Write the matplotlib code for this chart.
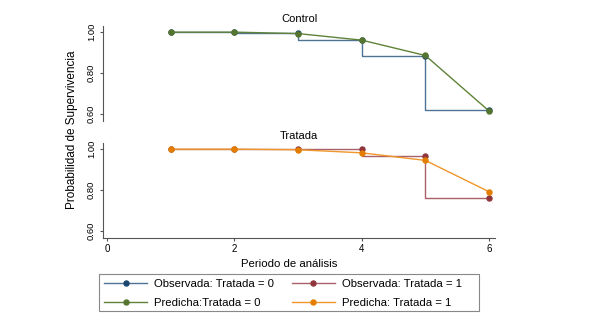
import matplotlib
matplotlib.use("Agg")
import matplotlib.pyplot as plt
from matplotlib.patches import Rectangle

plt.rcParams['font.family'] = ['Liberation Sans', 'DejaVu Sans']

periodo = [1, 2, 3, 4, 5, 6]

# Control (Tratada = 0)
obs_control = [1.0, 1.0, 0.994, 0.963, 0.883, 0.622]
pred_control = [1.0, 1.0, 0.993, 0.961, 0.886, 0.615]

# Tratada (Tratada = 1)
obs_tratada = [1.0, 1.0, 1.0, 1.0, 0.966, 0.761]
pred_tratada = [1.0, 1.0, 0.997, 0.982, 0.945, 0.792]

navy = '#1a476f'
maroon = '#90353b'
green = '#55752f'
orange = '#e37e00'
line_navy = '#4f7394'
line_maroon = '#a8616a'
line_green = '#5f8239'
line_orange = '#f0962a'

fig = plt.figure(figsize=(5.89, 3.31), dpi=100)
W, H = 589, 331

def panel(top, bottom):
    return fig.add_axes([103 / W, 1 - bottom / H, 392 / W, (bottom - top) / H])

ax1 = panel(26, 121)
ax2 = panel(143, 238)

handles = {}
for ax, obs, pred, title, cobs, cobs_l, cpred, cpred_l, key in [
        (ax1, obs_control, pred_control, 'Control', navy, line_navy, green, line_green, 0),
        (ax2, obs_tratada, pred_tratada, 'Tratada', maroon, line_maroon, orange, line_orange, 1)]:
    ax.plot(periodo, obs, drawstyle='steps-pre', color=cobs_l, lw=1.0)
    ax.plot(periodo, obs, 'o', color=cobs, ms=3.6, mec=cobs)
    ax.plot(periodo, pred, '-', color=cpred_l, lw=1.0)
    ax.plot(periodo, pred, 'o', color=cpred, ms=3.6, mec=cpred)
    handles[('obs', key)] = plt.Line2D([], [], color=cobs_l, lw=1.0, marker='o',
                                       ms=3.6, mfc=cobs, mec=cobs)
    handles[('pred', key)] = plt.Line2D([], [], color=cpred_l, lw=1.0, marker='o',
                                        ms=3.6, mfc=cpred, mec=cpred)
    ax.set_xlim(-0.063, 6.094)
    ax.set_ylim(0.566, 1.03)
    ax.set_yticks([0.6, 0.8, 1.0])
    ax.set_yticklabels(['0.60', '0.80', '1.00'], rotation=90, va='center', fontsize=6.8)
    ax.set_title(title, fontsize=8, pad=3)
    for s in ['top', 'right']:
        ax.spines[s].set_visible(False)
    ax.spines['left'].set_color('#555555')
    ax.spines['bottom'].set_color('#555555')
    ax.tick_params(axis='y', length=2.5, color='#555555', pad=2.5)
    ax.tick_params(axis='x', length=2.2, color='#555555', labelsize=7, pad=2)

ax1.spines['bottom'].set_visible(False)
ax1.set_xticks([])
ax2.set_xticks([0, 2, 4, 6])

fig.text(289 / W, 1 - 264 / H, 'Periodo de análisis', ha='center', va='center', fontsize=8.2)
fig.text(72 / W, 1 - 130 / H, 'Probabilidad de Supervivencia', ha='center', va='center',
         rotation=90, fontsize=8.5)

fig.patches.append(Rectangle((99 / W, 1 - 311 / H), 380 / W, 37 / H, transform=fig.transFigure,
                             fill=False, edgecolor='#888888', lw=0.8))

leg = fig.legend([handles[('obs', 0)], handles[('pred', 0)], handles[('obs', 1)], handles[('pred', 1)]],
                 ['Observada: Tratada = 0', 'Predicha:Tratada = 0',
                  'Observada: Tratada = 1', 'Predicha: Tratada = 1'],
                 loc='upper left', bbox_to_anchor=(104 / W, 1 - 279 / H),
                 ncol=2, fontsize=8.2, handlelength=3.8, handletextpad=0.6,
                 columnspacing=1.55, labelspacing=0.75, borderaxespad=0, borderpad=0,
                 frameon=False)

fig.savefig('out.png', dpi=100, facecolor='white')
